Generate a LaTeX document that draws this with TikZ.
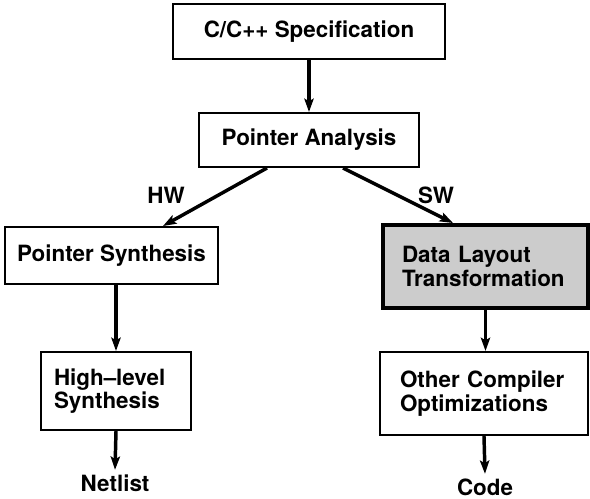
\documentclass[tikz,border=0pt]{standalone}
\usepackage{fontspec}
\setmainfont{TeX Gyre Heros}
\usetikzlibrary{arrows.meta,calc}

\begin{document}
\begin{tikzpicture}[
  x=0.75pt, y=-0.75pt,
  >={Stealth[length=10pt,width=7pt,inset=2pt]},
  font=\fontsize{16.8}{17.5}\selectfont\bfseries,
  block/.style={draw, line width=1.5pt, inner sep=0pt, align=center},
  twoline/.style={block, align=left},
  flow/.style={->, line width=2.6pt}
]
  \useasboundingbox (0,0) rectangle (590,499);

  % top of the flow
  \node[block, minimum width=204pt, minimum height=41pt] (spec) at (309,31.5) {C/C++ Specification};
  \node[block, minimum width=165pt, minimum height=40.5pt] (analysis) at (309,140) {Pointer Analysis};

  % hardware branch
  \node[block, minimum width=160pt, minimum height=42.75pt] (psynth) at (111.5,255.5) {Pointer Synthesis};
  \node[twoline, inner xsep=9.75pt, text width=93pt, minimum height=58.5pt] (hls) at (116,391) {High--level\\Synthesis};
  \node (netlist) at (115,483) {Netlist};

  % software branch
  \node[twoline, line width=3pt, fill=black!20, inner xsep=14.25pt, text width=125.25pt,
    minimum height=62.25pt] (layout) at (485.5,266.5) {Data Layout\\Transformation};
  \node[twoline, inner xsep=15pt, text width=126pt, minimum height=62.25pt] (other) at (484,393.5) {Other Compiler\\Optimizations};
  \node (code) at (485,487) {Code};

  % branch labels
  \node (hw) at (166,195) {HW};
  \node (sw) at (436,195) {SW};

  % connectors
  \draw[flow] (spec.south) -- (analysis.north);
  \draw[flow] ($(analysis.south)+(-42,0)$) -- ($(psynth.north)+(51.5,0)$);
  \draw[flow] ($(analysis.south)+(34,0)$) -- ($(layout.north)+(-32.5,0)$);
  \draw[flow] (hls.north |- psynth.south) -- (hls.north);
  \draw[flow] (hls.south) -- (netlist.north);
  \draw[flow] (layout.south) -- (layout.south |- other.north);
  \draw[flow] (other.south) -- (code.north);
\end{tikzpicture}
\end{document}
